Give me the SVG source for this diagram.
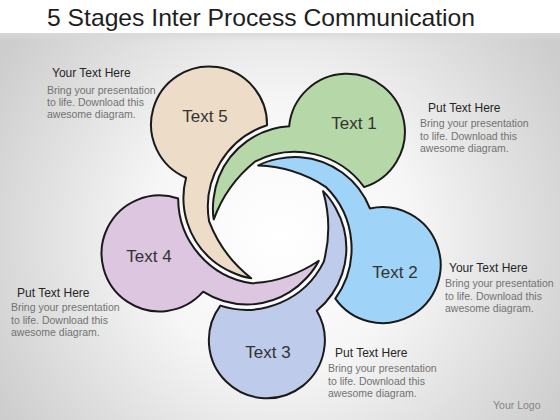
<svg xmlns="http://www.w3.org/2000/svg" width="560" height="420" viewBox="0 0 560 420">
  <defs>
    <radialGradient id="bg" cx="280" cy="235" r="330" gradientUnits="userSpaceOnUse">
      <stop offset="0" stop-color="#ffffff"/>
      <stop offset="0.4" stop-color="#f6f6f6"/>
      <stop offset="1" stop-color="#cdcdcd"/>
    </radialGradient>
    <linearGradient id="shade" x1="0" y1="0" x2="0" y2="1">
      <stop offset="0" stop-color="#d9d9d9" stop-opacity="0.9"/>
      <stop offset="1" stop-color="#d9d9d9" stop-opacity="0"/>
    </linearGradient>
    <path id="bubble" d="M -35.7,-47.4 C -28.2,-56.7 -13.3,-66.7 0,-71.15 A 81 81 0 0 1 84,-50.5 A 58 58 0 1 1 86.5,46 A 86 86 0 0 0 34.8,-53.6 A 132 132 0 0 0 -35.7,-47.4 Z"/>
  </defs>
  <style>
    .shape { stroke: #1a1a1a; stroke-width: 2; stroke-linejoin: round; }
    .label { font-family: "Liberation Sans", Arial, sans-serif; font-size: 17px; fill: #333333; text-anchor: middle; }
    .head { font-family: "Liberation Sans", Arial, sans-serif; font-size: 12px; fill: #262626; }
    .body { font-family: "Liberation Sans", Arial, sans-serif; font-size: 10.5px; fill: #727272; }
  </style>

  <rect x="0" y="0" width="560" height="420" fill="url(#bg)"/>
  <rect x="0" y="0" width="560" height="33" fill="#ffffff"/>
  <rect x="0" y="33" width="560" height="8" fill="url(#shade)"/>

  <text x="261" y="26" font-family="'Liberation Sans', Arial, sans-serif" font-size="24" fill="#1e1e1e" text-anchor="middle" textLength="428" lengthAdjust="spacingAndGlyphs">5 Stages Inter Process Communication</text>

  <g id="connectors"/>

  <g id="node-text1">
    <use href="#bubble" class="shape" fill="#b6d7a8" transform="translate(273,223) rotate(-49.5)"/>
    <text class="label" x="354" y="129">Text 1</text>
  </g>
  <g id="node-text2">
    <use href="#bubble" class="shape" fill="#9fd3f7" transform="translate(273,223) rotate(22.5)"/>
    <text class="label" x="395" y="278">Text 2</text>
  </g>
  <g id="node-text3">
    <use href="#bubble" class="shape" fill="#becbea" transform="translate(273,223) rotate(94.5)"/>
    <text class="label" x="268" y="358">Text 3</text>
  </g>
  <g id="node-text4">
    <use href="#bubble" class="shape" fill="#dcc6e0" transform="translate(273,223) rotate(166.5)"/>
    <text class="label" x="149" y="262">Text 4</text>
  </g>
  <g id="node-text5">
    <use href="#bubble" class="shape" fill="#eddcc8" transform="translate(273,223) rotate(238.5)"/>
    <text class="label" x="205" y="122">Text 5</text>
  </g>

  <g id="note-topleft">
    <text class="head" x="52" y="77">Your Text Here</text>
    <text class="body" x="47" y="94">Bring  your presentation</text>
    <text class="body" x="47" y="106">to life. Download this</text>
    <text class="body" x="47" y="118">awesome diagram.</text>
  </g>
  <g id="note-topright">
    <text class="head" x="428" y="112">Put Text Here</text>
    <text class="body" x="420" y="127">Bring  your presentation</text>
    <text class="body" x="420" y="140">to life. Download this</text>
    <text class="body" x="420" y="152">awesome diagram.</text>
  </g>
  <g id="note-right">
    <text class="head" x="449" y="272">Your Text Here</text>
    <text class="body" x="445" y="287">Bring  your presentation</text>
    <text class="body" x="445" y="300">to life. Download this</text>
    <text class="body" x="445" y="312">awesome diagram.</text>
  </g>
  <g id="note-left">
    <text class="head" x="17" y="297">Put Text Here</text>
    <text class="body" x="11" y="311">Bring  your presentation</text>
    <text class="body" x="11" y="324">to life. Download this</text>
    <text class="body" x="11" y="336">awesome diagram.</text>
  </g>
  <g id="note-bottom">
    <text class="head" x="335" y="357">Put Text Here</text>
    <text class="body" x="328" y="372">Bring  your presentation</text>
    <text class="body" x="328" y="385">to life. Download this</text>
    <text class="body" x="328" y="397">awesome diagram.</text>
  </g>

  <text x="493" y="409" font-family="'Liberation Sans', Arial, sans-serif" font-size="10.5" fill="#858585">Your Logo</text>
</svg>
